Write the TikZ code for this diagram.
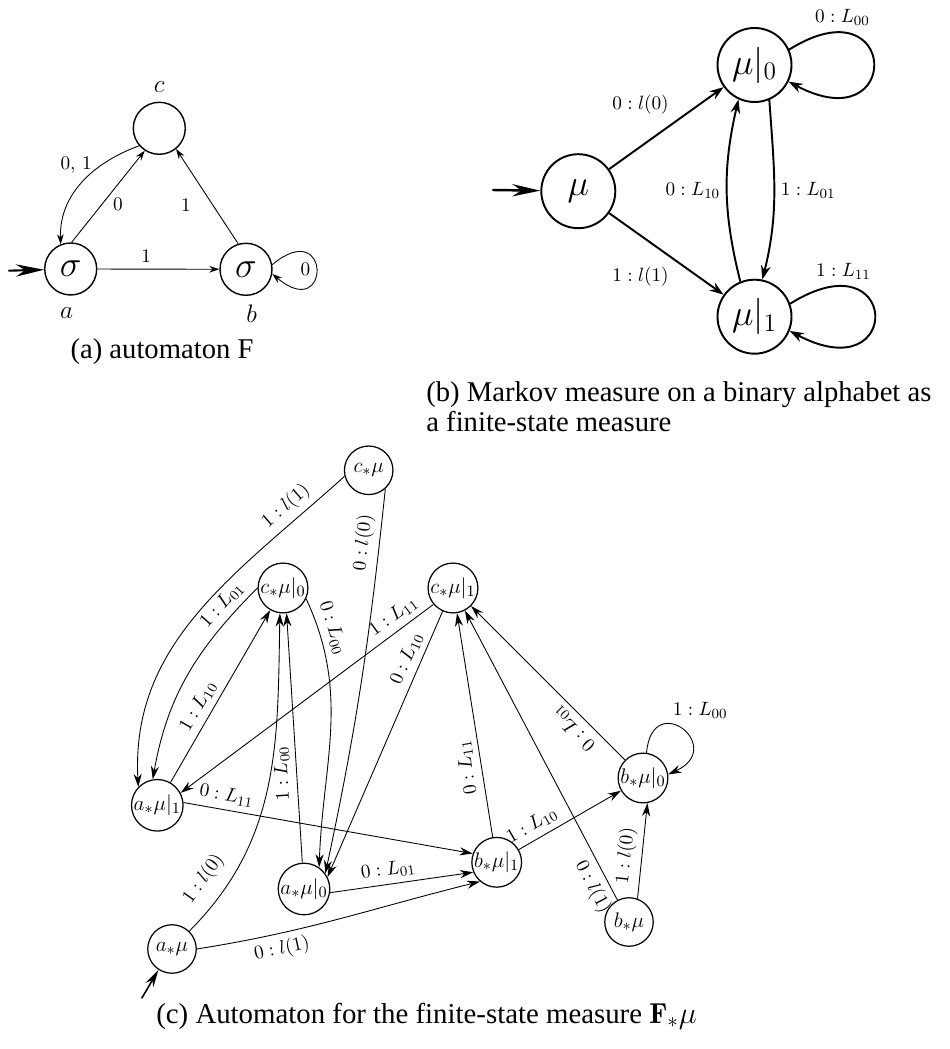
\documentclass[tikz,border=0pt]{standalone}
\usepackage{fontspec}
\newfontfamily\capfont{Liberation Serif}
\usetikzlibrary{arrows.meta,positioning}
\tikzset{
  stA/.style={circle,draw,line width=0.8pt,minimum size=1.04cm,inner sep=0pt,font=\fontsize{21}{24}\selectfont},
  stB/.style={circle,draw,line width=1.1pt,minimum size=1.48cm,inner sep=0pt,font=\fontsize{20}{24}\selectfont},
  stC/.style={circle,draw,line width=0.7pt,minimum size=0.97cm,inner sep=0pt,font=\fontsize{12.5}{15}\selectfont},
  arA/.style={-{Stealth[length=5.7pt,width=3.8pt]},line width=0.5pt},
  arB/.style={-{Stealth[length=8pt,width=5.5pt]},line width=1.1pt},
  arC/.style={-{Stealth[length=7.5pt,width=4.6pt]},line width=0.5pt},
  initA/.style={-{Stealth[length=16pt,width=7pt]},line width=1.2pt},
  initC/.style={-{Stealth[length=10pt,width=5pt]},line width=0.9pt},
  lab/.style={font=\fontsize{11}{13}\selectfont},
  nm/.style={font=\fontsize{14}{16}\selectfont},
  capt/.style={font=\fontsize{16.3}{17.5}\capfont,inner sep=0pt},
}
\begin{document}
\begin{tikzpicture}[x=1cm,y=1cm]
\useasboundingbox (0,0) rectangle (19,20.98);

% (a) automaton F
\node[stA] (a) at (1.414,15.6) {$\sigma$};
\node[stA] (b) at (4.92,15.594) {$\sigma$};
\node[stA] (c) at (3.186,18.414) {};
\node[nm] (na) at (1.334,14.714) {$a$};
\node[nm] (nb) at (5.034,14.714) {$b$};
\node[nm] (nc) at (3.186,19.246) {$c$};
\coordinate (inA) at (0.166,15.566);
\draw[initA] (inA) -- (a);
\draw[arA] (a) -- (b) node[lab,pos=.4,above] {$1$};
\draw[arA] (a.88) -- (c.237) node[lab,pos=.42,right=2.5pt] {$0$};
\draw[arA] (c.221) to[out=200,in=92] node[lab,pos=.3,left=2pt] {$0,\,1$} (a.112);
\draw[arA] (b.107) -- (c.-51) node[lab,pos=.41,left=9pt] {$1$};
\draw[arA] (b.10) .. controls +(40:1.54cm) and +(-40:1.54cm) .. (b.-10) node[lab,pos=.5,left] {$0$};
\node[capt] (capA) at (3.24,13.946) {(a) automaton F};

% (b) Markov measure
\node[stB] (mu) at (11.566,17.156) {$\mu$};
\node[stB] (mu0) at (15.09,19.68) {$\mu|_0$};
\node[stB] (mu1) at (15.09,14.646) {$\mu|_1$};
\coordinate (inB) at (9.846,17.18);
\draw[initA,line width=1.4pt] (inB) -- (mu);
\draw[arB] (mu) -- (mu0) node[lab,pos=.58,above left] {$0:l(0)$};
\draw[arB] (mu) -- (mu1) node[lab,pos=.58,below left] {$1:l(1)$};
\draw[arB] (mu0.-67) to[out=-86,in=76] node[lab,pos=.5,right] {$1:L_{01}$} (mu1.78);
\draw[arB] (mu1.112) to[out=104,in=-103] node[lab,pos=.5,left] {$0:L_{10}$} (mu0.245);
\draw[arB] (mu0.24) .. controls +(32:2.6cm) and +(-28:2.6cm) .. (mu0.-26) node[lab,pos=.2,above] {$0:L_{00}$};
\draw[arB] (mu1.20) .. controls +(32:2.6cm) and +(-28:2.6cm) .. (mu1.-22) node[lab,pos=.2,above] {$1:L_{11}$};
\node[capt,align=left,anchor=north west] (capB) at (8.52,13.36) {(b) Markov measure on a binary alphabet as\\a finite-state measure};

% (c) automaton for F_* mu
\node[stC] (cmu) at (7.374,11.574) {$c_*\mu$};
\node[stC] (c0) at (5.66,9.22) {$c_*\mu|_0$};
\node[stC] (c1) at (9.06,9.22) {$c_*\mu|_1$};
\node[stC] (a1) at (3.146,4.874) {$a_*\mu|_1$};
\node[stC] (a0) at (6.08,3.2) {$a_*\mu|_0$};
\node[stC] (amu) at (3.44,2.0) {$a_*\mu$};
\node[stC] (b1) at (9.934,3.734) {$b_*\mu|_1$};
\node[stC] (b0) at (12.86,5.42) {$b_*\mu|_0$};
\node[stC] (bmu) at (12.58,2.54) {$b_*\mu$};
\coordinate (inC) at (2.834,1.014);
\draw[initC] (inC) -- (amu.237);

\draw[arC] (cmu.194) to[out=222,in=93] node[lab,pos=.15,sloped,above] {$1:l(1)$} (a1.136);
\draw[arC] (cmu.-48) to[out=-96,in=78] node[lab,pos=.13,sloped,above] {$0:l(0)$} (a0.36);
\draw[arC] (c0.180) to[out=225,in=80] node[lab,pos=.15,sloped,above] {$1:L_{01}$} (a1.100);
\draw[arC] (a1) -- (c0) node[lab,pos=.4,sloped,above] {$1:L_{10}$};
\draw[arC] (c0.-25) to[out=-65,in=88] node[lab,pos=.12,sloped,above] {$0:L_{00}$} (a0.55);
\draw[arC] (a0) -- (c0.-82) node[lab,pos=.36,sloped,above,allow upside down] {$1:L_{00}$};
\draw[arC] (amu.46) to[out=45,in=-91] node[lab,pos=.14,sloped,above=4pt] {$1:l(0)$} (c0.-97);
\draw[arC] (c1.220) -- (a1.28) node[lab,pos=.125,sloped,above] {$1:L_{11}$};
\draw[arC] (c1.246) -- (a0.27) node[lab,pos=.2,sloped,above] {$0:L_{10}$};
\draw[arC] (a1.6) -- (b1.160) node[lab,pos=.14,sloped,above] {$0:L_{11}$};
\draw[arC] (a0.-8) -- (b1.203) node[lab,pos=.42,sloped,above] {$0:L_{01}$};
\draw[arC] (amu.0) to[out=9,in=194] node[lab,pos=.27,sloped,below] {$0:l(1)$} (b1.229);
\draw[arC] (b1) -- (c1) node[lab,pos=.32,sloped,above,allow upside down] {$0:L_{11}$};
\draw[arC] (b1) -- (b0) node[lab,pos=.2,sloped,above] {$1:L_{10}$};
\draw[arC] (bmu) -- (c1) node[lab,pos=.07,sloped,below] {$0:l(1)$};
\draw[arC] (bmu.70) -- (b0.-80) node[lab,pos=.43,sloped,above] {$1:l(0)$};
\draw[arC] (b0) -- (c1) node[lab,pos=.27,sloped,above,allow upside down] {$0:L_{01}$};
\draw[arC] (b0.82) .. controls +(85:1.3cm) and +(25:1.3cm) .. (b0.8) node[lab,pos=.4,above right=0pt and -4pt] {$1:L_{00}$};
\node[capt,font=\fontsize{16.4}{18}\capfont] (capC) at (8.53,0.66) {(c) Automaton for the finite-state measure $\mathbf{F}_*\mu$};
\end{tikzpicture}
\end{document}
